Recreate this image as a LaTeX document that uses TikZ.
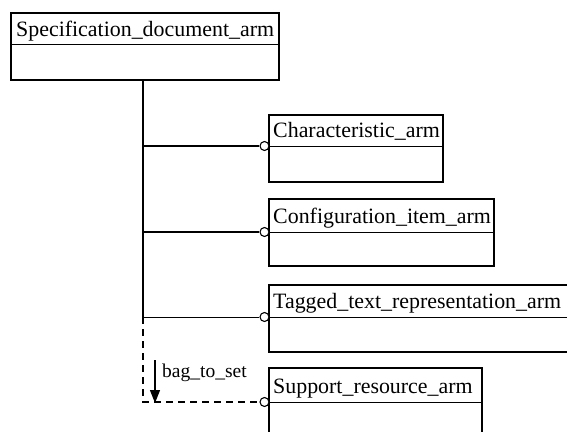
\documentclass[tikz,border=0pt]{standalone}
\usepackage{fontspec}
\setmainfont{Liberation Serif}
\usetikzlibrary{arrows.meta}
\begin{document}
\begin{tikzpicture}[x=1pt,y=-1pt,
  cls/.style={draw, line width=1.2pt, anchor=north west, inner sep=0pt, outer sep=0pt},
  lbl/.style={anchor=base west, inner sep=0pt, font=\fontsize{21.9}{24}\selectfont},
  ring/.style={draw, circle, fill=white, line width=1.1pt, minimum size=9pt, inner sep=0pt},
  divider/.style={line width=1pt},
  link/.style={line width=1.3pt},
  dlink/.style={line width=1.3pt, dash pattern=on 7pt off 5pt}]
\useasboundingbox (0,0) rectangle (567,431);
\begin{scope}
\clip (0,0) rectangle (567,431);
% classes
\node[cls, minimum width=268pt, minimum height=67pt] (spec) at (11,13) {};
\draw[divider] (spec.west |- 0,44) -- (spec.east |- 0,44);
\node[lbl] (specT) at (16,36) {Specification\_document\_arm};

\node[cls, minimum width=174pt, minimum height=67pt] (char) at (269,115) {};
\draw[divider] (char.west |- 0,146) -- (char.east |- 0,146);
\node[lbl] (charT) at (273,137.5) {Characteristic\_arm};

\node[cls, minimum width=225pt, minimum height=67pt] (conf) at (269,199) {};
\draw[divider] (conf.west |- 0,232) -- (conf.east |- 0,232);
\node[lbl] (confT) at (273,223.5) {Configuration\_item\_arm};

\node[cls, minimum width=330pt, minimum height=67pt] (tag) at (269,285) {};
\draw[divider] (tag.west |- 0,317) -- (tag.east |- 0,317);
\node[lbl] (tagT) at (273,308.5) {Tagged\_text\_representation\_arm};

\node[cls, minimum width=213pt, minimum height=90pt] (sup) at (269,368) {};
\draw[divider] (sup.west |- 0,402) -- (sup.east |- 0,402);
\node[lbl] (supT) at (273,393.5) {Support\_resource\_arm};

% junctions
\coordinate (j0) at (143,80);
\coordinate (j1) at (143,146);
\coordinate (j2) at (143,232);
\coordinate (j3) at (143,317);
\coordinate (j4) at (143,402);

\node[ring] (r1) at (264.5,146) {};
\node[ring] (r2) at (264.5,232) {};
\node[ring] (r3) at (264.5,317) {};
\node[ring] (r4) at (264.5,402) {};

\draw[link] (j0) -- (j3);
\draw[link] (j1) -- (r1);
\draw[link] (j2) -- (r2);
\draw[link, line width=0.8pt] (j3) -- (r3);
\draw[dlink] (j3) -- (j4) -- (r4);

% bag_to_set arrow
\coordinate (a0) at (155,360);
\coordinate (a1) at (155,403);
\draw[line width=1.3pt, -{Triangle[length=13pt,width=10pt]}] (a0) -- (a1);
\node[anchor=base west, inner sep=0pt, font=\fontsize{19.5}{22}\selectfont] (bts) at (162,377) {bag\_to\_set};
\end{scope}
\end{tikzpicture}
\end{document}
